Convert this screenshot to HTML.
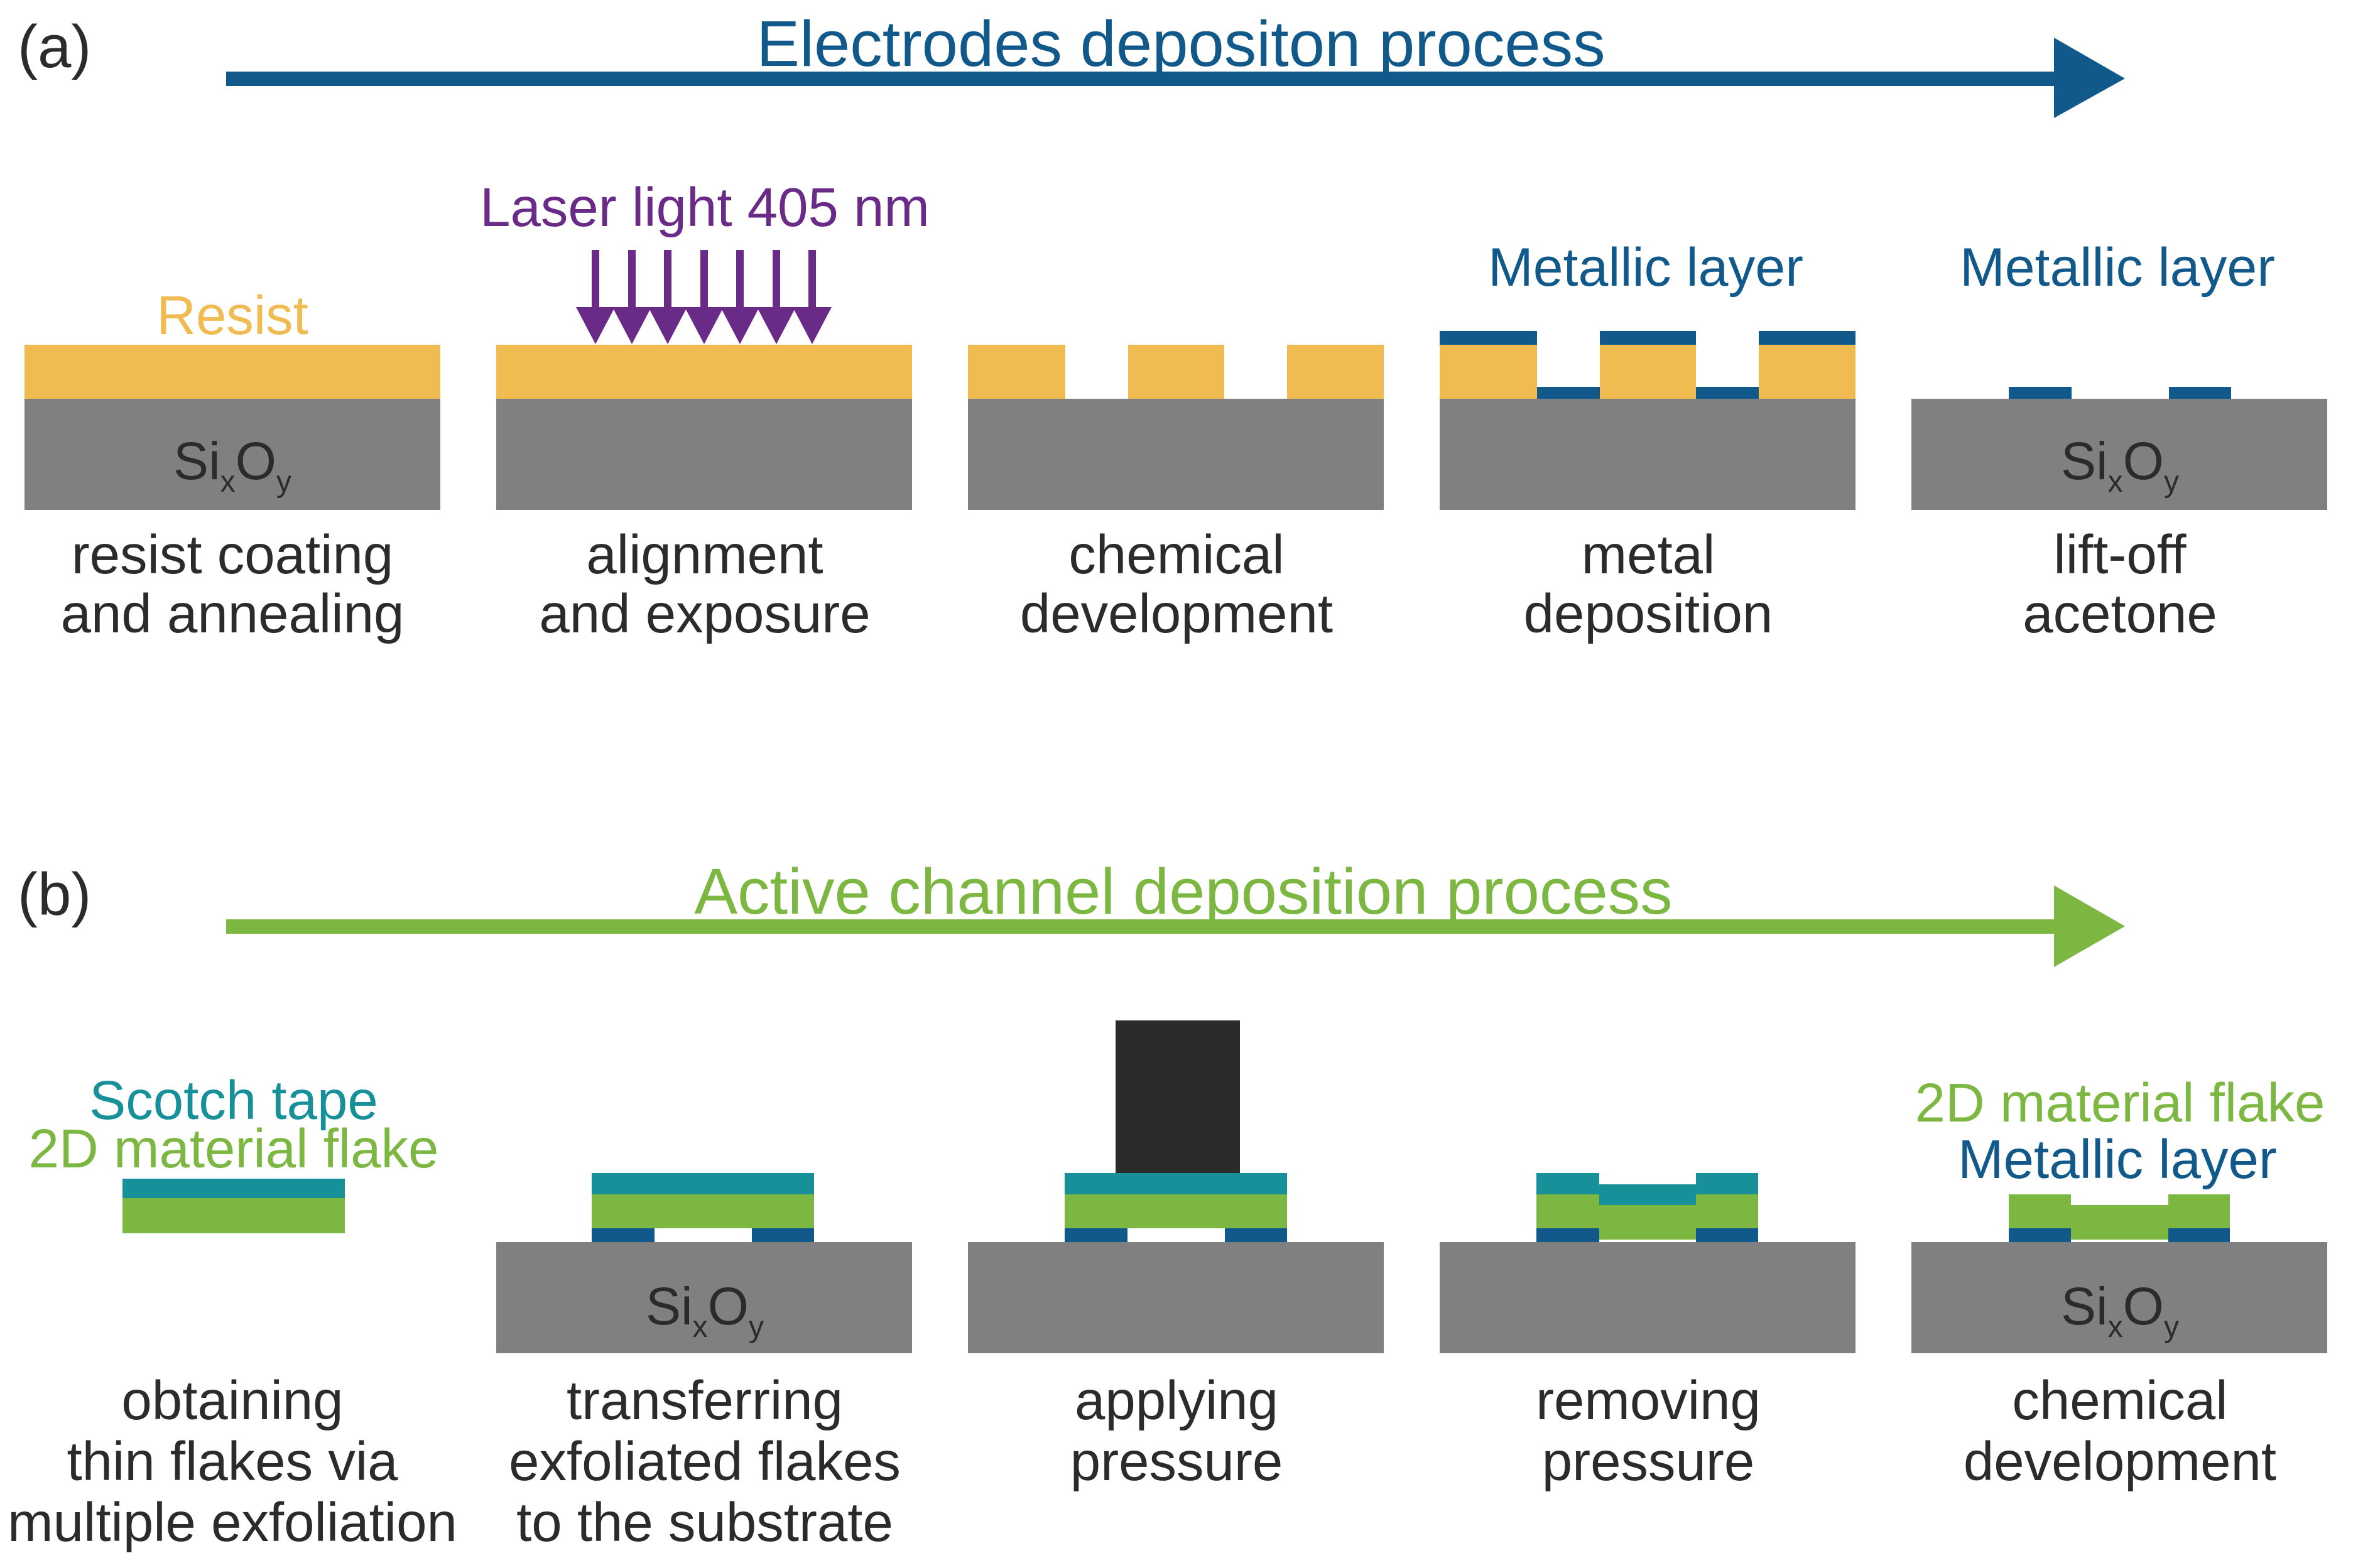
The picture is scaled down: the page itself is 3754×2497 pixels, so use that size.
<!DOCTYPE html>
<html><head><style>html,body{margin:0;padding:0;background:#fff}svg{display:block}</style></head><body>
<svg width="3754" height="2497" viewBox="0 0 3754 2497" xmlns="http://www.w3.org/2000/svg" font-family="Liberation Sans, Arial, sans-serif">
<!-- (a) -->
<text x="28" y="107" font-size="96" fill="#2b2b2b">(a)</text>
<rect x="360" y="114" width="2920" height="23" fill="#10598a"/>
<polygon points="3270,60 3383,125 3270,188" fill="#10598a"/>
<text x="1880" y="105" font-size="103" text-anchor="middle" fill="#10598a">Electrodes depositon process</text>

<!-- panel 1 -->
<rect x="39" y="549" width="662" height="86" fill="#f0bc52"/>
<rect x="39" y="635" width="662" height="177" fill="#808080"/>
<text x="370" y="532" font-size="87" text-anchor="middle" fill="#f0bc52">Resist</text>
<text x="370" y="763" font-size="84" text-anchor="middle" fill="#2b2b2b">Si<tspan font-size="48" dy="20">x</tspan><tspan dy="-20">O</tspan><tspan font-size="48" dy="20">y</tspan></text>
<text x="370" y="913" font-size="87" text-anchor="middle" fill="#2b2b2b">resist coating</text>
<text x="370" y="1007" font-size="87" text-anchor="middle" fill="#2b2b2b">and annealing</text>

<!-- panel 2 -->
<rect x="790" y="549" width="662" height="86" fill="#f0bc52"/>
<rect x="790" y="635" width="662" height="177" fill="#808080"/>
<text x="1122" y="360" font-size="87" text-anchor="middle" fill="#6a2a87">Laser light 405 nm</text>
<g fill="#6a2a87">
<rect x="942" y="398" width="12" height="95"/><polygon points="917,489 979,489 948,548"/>
<rect x="1000" y="398" width="12" height="95"/><polygon points="975,489 1037,489 1006,548"/>
<rect x="1057" y="398" width="12" height="95"/><polygon points="1032,489 1094,489 1063,548"/>
<rect x="1115" y="398" width="12" height="95"/><polygon points="1090,489 1152,489 1121,548"/>
<rect x="1172" y="398" width="12" height="95"/><polygon points="1147,489 1209,489 1178,548"/>
<rect x="1230" y="398" width="12" height="95"/><polygon points="1205,489 1267,489 1236,548"/>
<rect x="1287" y="398" width="12" height="95"/><polygon points="1262,489 1324,489 1293,548"/>
</g>
<text x="1122" y="913" font-size="87" text-anchor="middle" fill="#2b2b2b">alignment</text>
<text x="1122" y="1007" font-size="87" text-anchor="middle" fill="#2b2b2b">and exposure</text>

<!-- panel 3 -->
<rect x="1541" y="549" width="155" height="86" fill="#f0bc52"/>
<rect x="1796" y="549" width="153" height="86" fill="#f0bc52"/>
<rect x="2049" y="549" width="154" height="86" fill="#f0bc52"/>
<rect x="1541" y="635" width="662" height="177" fill="#808080"/>
<text x="1873" y="913" font-size="87" text-anchor="middle" fill="#2b2b2b">chemical</text>
<text x="1873" y="1007" font-size="87" text-anchor="middle" fill="#2b2b2b">development</text>

<!-- panel 4 -->
<rect x="2292" y="549" width="155" height="86" fill="#f0bc52"/>
<rect x="2547" y="549" width="153" height="86" fill="#f0bc52"/>
<rect x="2800" y="549" width="154" height="86" fill="#f0bc52"/>
<g fill="#10598a">
<rect x="2292" y="527" width="155" height="22"/>
<rect x="2547" y="527" width="153" height="22"/>
<rect x="2800" y="527" width="154" height="22"/>
<rect x="2447" y="616" width="100" height="21"/>
<rect x="2700" y="616" width="100" height="21"/>
</g>
<rect x="2292" y="635" width="662" height="177" fill="#808080"/>
<text x="2620" y="455" font-size="86" text-anchor="middle" fill="#10598a">Metallic layer</text>
<text x="2624" y="913" font-size="87" text-anchor="middle" fill="#2b2b2b">metal</text>
<text x="2624" y="1007" font-size="87" text-anchor="middle" fill="#2b2b2b">deposition</text>

<!-- panel 5 -->
<g fill="#10598a">
<rect x="3198" y="616" width="100" height="21"/>
<rect x="3453" y="616" width="99" height="21"/>
</g>
<rect x="3043" y="635" width="662" height="177" fill="#808080"/>
<text x="3371" y="455" font-size="86" text-anchor="middle" fill="#10598a">Metallic layer</text>
<text x="3375" y="763" font-size="84" text-anchor="middle" fill="#2b2b2b">Si<tspan font-size="48" dy="20">x</tspan><tspan dy="-20">O</tspan><tspan font-size="48" dy="20">y</tspan></text>
<text x="3375" y="913" font-size="87" text-anchor="middle" fill="#2b2b2b">lift-off</text>
<text x="3375" y="1007" font-size="87" text-anchor="middle" fill="#2b2b2b">acetone</text>

<!-- (b) -->
<text x="28" y="1457" font-size="96" fill="#2b2b2b">(b)</text>
<rect x="360" y="1464" width="2920" height="23" fill="#7bb741"/>
<polygon points="3270,1410 3383,1475 3270,1540" fill="#7bb741"/>
<text x="1884" y="1455" font-size="103" text-anchor="middle" fill="#7bb741">Active channel deposition process</text>

<!-- b panel 1 -->
<text x="372" y="1782" font-size="87" text-anchor="middle" fill="#17909a">Scotch tape</text>
<text x="372" y="1859" font-size="87" text-anchor="middle" fill="#7bb741">2D material flake</text>
<rect x="195" y="1877" width="354" height="31" fill="#17909a"/>
<rect x="195" y="1908" width="354" height="56" fill="#7bb741"/>
<text x="370" y="2260" font-size="87" text-anchor="middle" fill="#2b2b2b">obtaining</text>
<text x="370" y="2357" font-size="87" text-anchor="middle" fill="#2b2b2b">thin flakes via</text>
<text x="370" y="2454" font-size="87" text-anchor="middle" fill="#2b2b2b">multiple exfoliation</text>

<!-- b panel 2 -->
<rect x="942" y="1868" width="354" height="34" fill="#17909a"/>
<rect x="942" y="1902" width="354" height="54" fill="#7bb741"/>
<rect x="942" y="1956" width="100" height="22" fill="#10598a"/>
<rect x="1197" y="1956" width="99" height="22" fill="#10598a"/>
<rect x="790" y="1978" width="662" height="177" fill="#808080"/>
<text x="1122" y="2109" font-size="84" text-anchor="middle" fill="#2b2b2b">Si<tspan font-size="48" dy="20">x</tspan><tspan dy="-20">O</tspan><tspan font-size="48" dy="20">y</tspan></text>
<text x="1122" y="2260" font-size="87" text-anchor="middle" fill="#2b2b2b">transferring</text>
<text x="1122" y="2357" font-size="87" text-anchor="middle" fill="#2b2b2b">exfoliated flakes</text>
<text x="1122" y="2454" font-size="87" text-anchor="middle" fill="#2b2b2b">to the substrate</text>

<!-- b panel 3 -->
<rect x="1776" y="1625" width="198" height="243" fill="#2b2b2a"/>
<rect x="1695" y="1868" width="354" height="34" fill="#17909a"/>
<rect x="1695" y="1902" width="354" height="54" fill="#7bb741"/>
<rect x="1695" y="1956" width="100" height="22" fill="#10598a"/>
<rect x="1950" y="1956" width="99" height="22" fill="#10598a"/>
<rect x="1541" y="1978" width="662" height="177" fill="#808080"/>
<text x="1873" y="2260" font-size="87" text-anchor="middle" fill="#2b2b2b">applying</text>
<text x="1873" y="2357" font-size="87" text-anchor="middle" fill="#2b2b2b">pressure</text>

<!-- b panel 4 -->
<rect x="2446" y="1868" width="100" height="34" fill="#17909a"/>
<rect x="2700" y="1868" width="99" height="34" fill="#17909a"/>
<rect x="2546" y="1886" width="154" height="33" fill="#17909a"/>
<rect x="2446" y="1902" width="100" height="54" fill="#7bb741"/>
<rect x="2700" y="1902" width="99" height="54" fill="#7bb741"/>
<rect x="2546" y="1919" width="154" height="55" fill="#7bb741"/>
<rect x="2446" y="1956" width="100" height="22" fill="#10598a"/>
<rect x="2700" y="1956" width="99" height="22" fill="#10598a"/>
<rect x="2292" y="1978" width="662" height="177" fill="#808080"/>
<text x="2624" y="2260" font-size="87" text-anchor="middle" fill="#2b2b2b">removing</text>
<text x="2624" y="2357" font-size="87" text-anchor="middle" fill="#2b2b2b">pressure</text>

<!-- b panel 5 -->
<rect x="3198" y="1902" width="99" height="54" fill="#7bb741"/>
<rect x="3452" y="1902" width="98" height="54" fill="#7bb741"/>
<rect x="3297" y="1919" width="155" height="55" fill="#7bb741"/>
<rect x="3198" y="1956" width="99" height="22" fill="#10598a"/>
<rect x="3452" y="1956" width="98" height="22" fill="#10598a"/>
<rect x="3043" y="1978" width="662" height="177" fill="#808080"/>
<text x="3375" y="1786" font-size="87" text-anchor="middle" fill="#7bb741">2D material flake</text>
<text x="3371" y="1876" font-size="87" text-anchor="middle" fill="#10598a">Metallic layer</text>
<text x="3375" y="2109" font-size="84" text-anchor="middle" fill="#2b2b2b">Si<tspan font-size="48" dy="20">x</tspan><tspan dy="-20">O</tspan><tspan font-size="48" dy="20">y</tspan></text>
<text x="3375" y="2260" font-size="87" text-anchor="middle" fill="#2b2b2b">chemical</text>
<text x="3375" y="2357" font-size="87" text-anchor="middle" fill="#2b2b2b">development</text>
</svg>
</body></html>
